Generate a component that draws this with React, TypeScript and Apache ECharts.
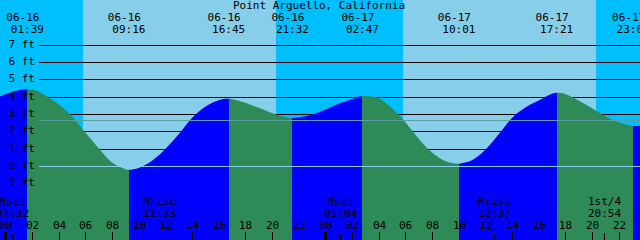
import React, { useEffect, useRef } from 'react';
import * as echarts from 'echarts';

const TITLE = 'Point Arguello, California';

// Tide extremes (high / low)
const tideDates = ['06-16', '06-16', '06-16', '06-16', '06-17', '06-17', '06-17', '06-17'];
const tideTimes = ['01:39', '09:16', '16:45', '21:32', '02:47', '10:01', '17:21', '23:05'];
const tideFeet = [4.45, -0.2, 3.9, 2.8, 4.07, 0.15, 4.25, 2.33];

// Hourly water level (hours from 06-16 00:00, feet)
const sampleHours = [-1, 0, 1, 2, 3, 4, 5, 6, 7, 8, 9, 10, 11, 12, 13, 14, 15, 16, 17, 18, 19, 20, 21, 22, 23, 24,
  25, 26, 27, 28, 29, 30, 31, 32, 33, 34, 35, 36, 37, 38, 39, 40, 41, 42, 43, 44, 45, 46, 47, 48];
const sampleFeet = [3.85, 4.16, 4.4, 4.44, 4.1, 3.58, 2.9, 1.95, 1.05, 0.22, -0.17, -0.1, 0.32, 1.0, 1.85, 2.8,
  3.45, 3.82, 3.88, 3.68, 3.38, 3.08, 2.85, 2.83, 2.98, 3.28, 3.62, 3.88, 4.06, 3.94, 3.35, 2.55, 1.6, 0.8, 0.3,
  0.15, 0.35, 0.95, 1.85, 2.8, 3.4, 3.8, 4.2, 4.18, 3.8, 3.35, 2.9, 2.55, 2.34, 2.38];

// Daylight
const sunriseDates = ['06-16', '06-17'];
const sunriseTimes = ['05:51', '05:51'];
const sunsetDates = ['06-16', '06-17'];
const sunsetTimes = ['20:20', '20:20'];

// Moon events
const moonNames = ['Mset', 'Mrise', 'Mset', 'Mrise', '1st/4'];
const moonDates = ['06-16', '06-16', '06-17', '06-17', '06-17'];
const moonTimes = ['00:32', '11:33', '01:04', '12:37', '20:54'];

const depthLevels = [-1, 0, 1, 2, 3, 4, 5, 6, 7];
const datumFeet = 0;
const mslFeet = 2.66;
const hourTicks = [0, 2, 4, 6, 8, 10, 12, 14, 16, 18, 20, 22, 24, 26, 28, 30, 32, 34, 36, 38, 40, 42, 44, 46, 48];

const X_MIN = -0.4;
const X_MAX = 47.6;
const Y_MIN = -4.263;
const Y_MAX = 9.618;

const DAY = '#87CEEB';
const NIGHT = '#00BFFF';
const RISING = '#0000FF';
const FALLING = '#2E8B57';
const FONT_SIZE = 11;
const FONT = `${FONT_SIZE}px "DejaVu Sans Mono"`;
const LABEL_W = 39;

function toHours(date: string, time: string): number {
  const day = parseInt(date.slice(3), 10) - 16;
  const [h, m] = time.split(':').map((s) => parseInt(s, 10));
  return day * 24 + h + m / 60;
}

function txt(text: string, x: number, y: number, align = 'center') {
  return { type: 'text', style: { text, x, y, align, verticalAlign: 'middle', font: FONT, fill: '#000', lineHeight: FONT_SIZE } };
}

export default function App() {
  const ref = useRef<HTMLDivElement>(null);

  useEffect(() => {
    if (!ref.current) return;
    const chart = echarts.init(ref.current, undefined, { renderer: 'svg' });

    const tideHours = tideDates.map((d, i) => toHours(d, tideTimes[i]));
    const pts: number[][] = sampleHours.map((h, i) => [h, sampleFeet[i]]);
    tideHours.forEach((h, i) => pts.push([h, tideFeet[i]]));
    pts.sort((a, b) => a[0] - b[0]);

    // rising/falling pieces
    const pieces: any[] = [];
    let prev = -Infinity;
    tideHours.forEach((h, i) => {
      const isHigh = i === 0 ? tideFeet[0] > tideFeet[1] : tideFeet[i] > tideFeet[i - 1];
      const p: any = { lte: h, color: isHigh ? RISING : FALLING };
      if (prev !== -Infinity) p.gt = prev;
      pieces.push(p);
      prev = h;
    });
    const lastHigh = tideFeet[tideFeet.length - 1] > tideFeet[tideFeet.length - 2];
    pieces.push({ gt: prev, color: lastHigh ? FALLING : RISING });

    const dayIntervals = sunriseDates.map((d, i) => [
      toHours(d, sunriseTimes[i]),
      toHours(sunsetDates[i], sunsetTimes[i]),
    ]);
    const moonHours = moonDates.map((d, i) => toHours(d, moonTimes[i]));

    const option: any = {
      animation: false,
      backgroundColor: NIGHT,
      grid: { left: 0, right: 0, top: 0, bottom: 0 },
      xAxis: { type: 'value', min: X_MIN, max: X_MAX, show: false },
      yAxis: { type: 'value', min: Y_MIN, max: Y_MAX, show: false },
      visualMap: { show: false, type: 'piecewise', dimension: 0, seriesIndex: 2, pieces },
      graphic: [
        {
          type: 'text',
          z: 10,
          style: { text: TITLE, x: 319, y: 5.5, align: 'center', verticalAlign: 'middle', font: FONT, fill: '#000' },
        },
      ],
      series: [
        {
          type: 'custom',
          z: 0,
          silent: true,
          data: dayIntervals,
          renderItem: (params: any, api: any) => {
            const s = Math.round(api.coord([api.value(0), 0])[0]);
            const e = Math.round(api.coord([api.value(1), 0])[0]);
            const cs = params.coordSys;
            return { type: 'rect', shape: { x: s, y: cs.y, width: e - s, height: cs.height }, style: { fill: DAY } };
          },
        },
        {
          type: 'custom',
          z: 1,
          silent: true,
          data: depthLevels.map((v) => [0, v]),
          renderItem: (params: any, api: any) => {
            const y = Math.floor(api.coord([0, api.value(1)])[1]) + 0.5;
            const cs = params.coordSys;
            return {
              type: 'line',
              shape: { x1: cs.x + LABEL_W, y1: y, x2: cs.x + cs.width, y2: y },
              style: { stroke: '#000', lineWidth: 1 },
            };
          },
        },
        {
          type: 'line',
          z: 2,
          silent: true,
          data: pts,
          smooth: 0.35,
          showSymbol: false,
          symbol: 'none',
          lineStyle: { width: 0 },
          areaStyle: { opacity: 1, origin: 'start' },
        },
        {
          type: 'custom',
          z: 3,
          silent: true,
          data: [[0, datumFeet], [0, mslFeet]],
          renderItem: (params: any, api: any) => {
            const y = Math.floor(api.coord([0, api.value(1)])[1]) + 0.5;
            const cs = params.coordSys;
            return {
              type: 'line',
              shape: { x1: cs.x + LABEL_W, y1: y, x2: cs.x + cs.width, y2: y },
              style: { stroke: params.dataIndex === 0 ? DAY : '#5F9EA0', lineWidth: 1 },
            };
          },
        },
        {
          type: 'custom',
          z: 4,
          silent: true,
          data: depthLevels.map((v) => [0, v]),
          renderItem: (params: any, api: any) => {
            const v = api.value(1);
            const y = api.coord([0, v])[1] - 1;
            return txt(`${v} ft`, params.coordSys.x + 35, y, 'right');
          },
        },
        {
          type: 'custom',
          z: 4,
          silent: true,
          data: tideHours.map((h, i) => [h, tideFeet[i]]),
          renderItem: (params: any, api: any) => {
            const i = params.dataIndex;
            const x = api.coord([api.value(0), 0])[0];
            return {
              type: 'group',
              children: [txt(tideDates[i], x - 4.5, 17.5), txt(tideTimes[i], x, 29.5)],
            };
          },
        },
        {
          type: 'custom',
          z: 4,
          silent: true,
          data: hourTicks.map((h) => [h, 0]),
          renderItem: (params: any, api: any) => {
            const h = api.value(0);
            const x = Math.round(api.coord([h, 0])[0]);
            const cs = params.coordSys;
            const bottom = cs.y + cs.height;
            const midnight = h % 24 === 0;
            const lbl = String(h % 24).padStart(2, '0');
            return {
              type: 'group',
              children: [
                midnight
                  ? { type: 'rect', shape: { x: x - 1, y: bottom - 8, width: 3, height: 8 }, style: { fill: '#000' } }
                  : { type: 'line', shape: { x1: x + 0.5, y1: bottom - 8, x2: x + 0.5, y2: bottom }, style: { stroke: '#000', lineWidth: 1 } },
                txt(lbl, x + 0.5, 225.6),
              ],
            };
          },
        },
        {
          type: 'custom',
          z: 4,
          silent: true,
          data: moonHours.map((h) => [h, 0]),
          renderItem: (params: any, api: any) => {
            const i = params.dataIndex;
            const x = Math.round(api.coord([api.value(0), 0])[0]);
            const cs = params.coordSys;
            const bottom = cs.y + cs.height;
            return {
              type: 'group',
              children: [
                { type: 'line', shape: { x1: x + 0.5, y1: bottom - 7, x2: x + 0.5, y2: bottom }, style: { stroke: '#000', lineWidth: 1 } },
                txt(moonNames[i], x + 0.5, 201.5),
                txt(moonTimes[i], x + 0.5, 213),
              ],
            };
          },
        },
      ],
    };

    chart.setOption(option);
    return () => chart.dispose();
  }, []);

  return <div ref={ref} style={{ position: 'absolute', left: 0, top: 0, width: 640, height: 240 }} />;
}
